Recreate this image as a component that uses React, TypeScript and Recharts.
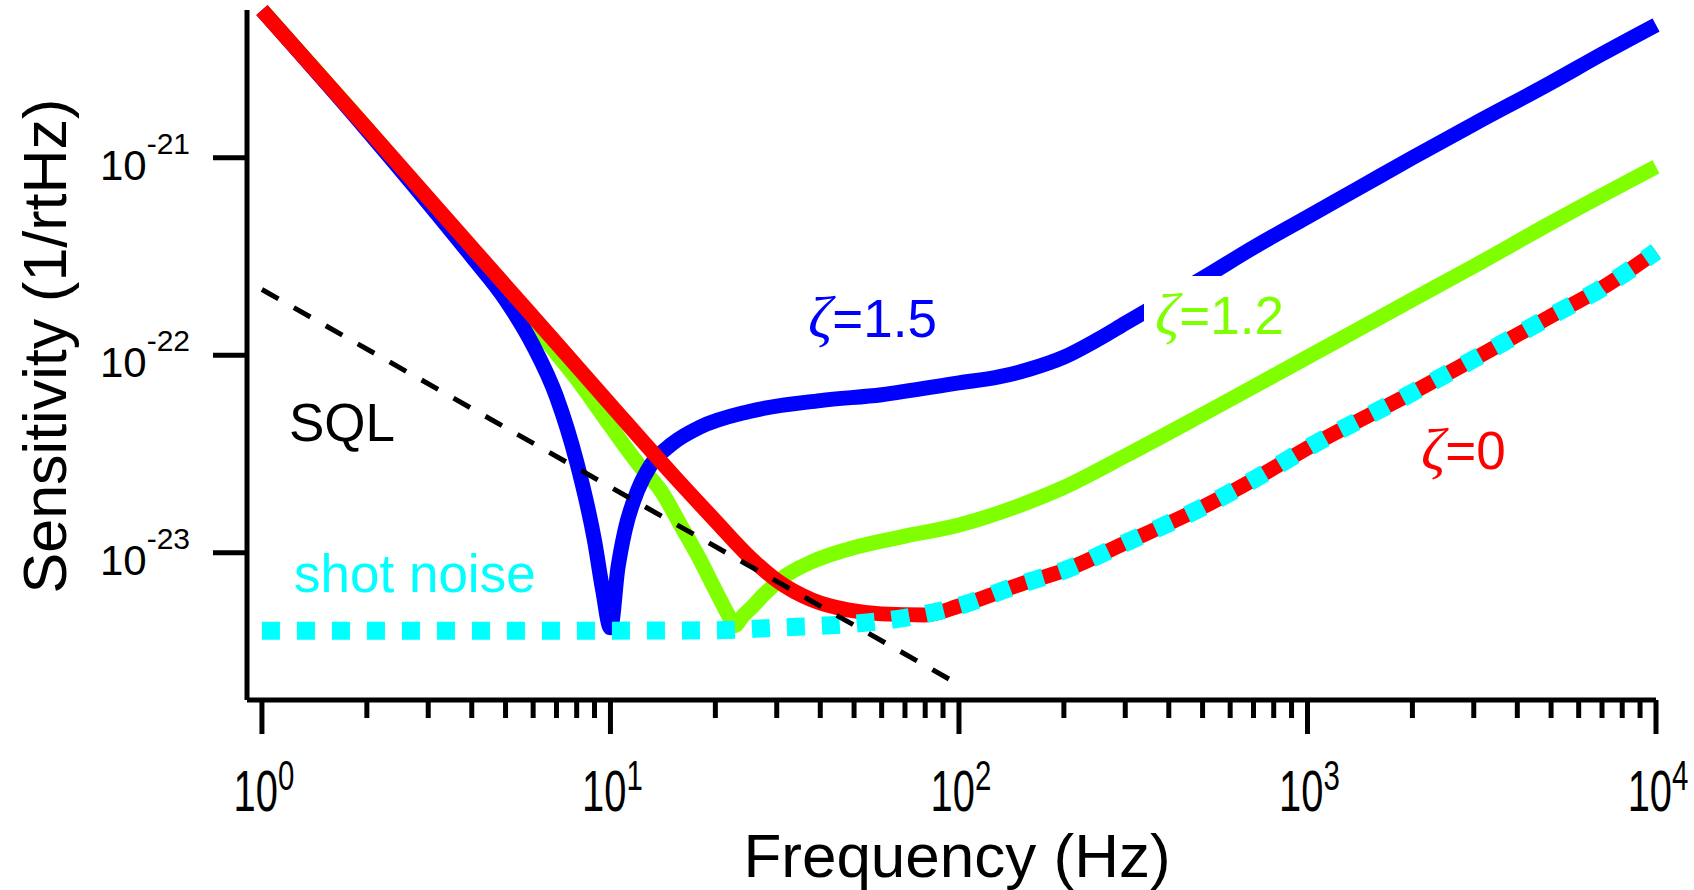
import { LineChart, Line, XAxis, YAxis } from "recharts";

// frequency (Hz) / sensitivity (1/rtHz)
const redF = [1, 2, 3, 5, 7, 10, 15, 20, 25, 30, 38, 48, 60, 80, 100, 150, 200, 300, 500, 700, 1000, 2000, 3000, 5000, 7000, 10000];
const redS = [5.59e-21, 1.41e-21, 6.25e-22, 2.25e-22, 1.15e-22, 5.62e-23, 2.51e-23, 1.45e-23, 9.55e-24, 7.24e-24, 5.75e-24, 5.13e-24, 4.9e-24, 4.84e-24, 5.37e-24, 6.92e-24, 8.13e-24, 1.12e-23, 1.7e-23, 2.34e-23, 3.39e-23, 6.46e-23, 9.55e-23, 1.58e-22, 2.19e-22, 3.35e-22];

const blueF = [1, 2, 3, 4, 5, 6, 7, 8, 9, 9.5, 10, 10.5, 11, 12, 13, 15, 18, 25, 40, 60, 100, 130, 160, 200, 250, 300, 400, 500, 700, 1000, 1400, 2000, 3000, 5000, 7000, 10000];
const blueS = [5.59e-21, 1.38e-21, 5.89e-22, 3.16e-22, 1.91e-22, 1.12e-22, 6.17e-23, 2.88e-23, 1.15e-23, 6.46e-24, 4.17e-24, 8.32e-24, 1.29e-23, 2.09e-23, 2.75e-23, 3.55e-23, 4.31e-23, 5.19e-23, 5.89e-23, 6.31e-23, 7.24e-23, 7.76e-23, 8.51e-23, 9.77e-23, 1.2e-22, 1.45e-22, 1.95e-22, 2.45e-22, 3.51e-22, 5.01e-22, 7.0e-22, 1.0e-21, 1.48e-21, 2.4e-21, 3.35e-21, 4.7e-21];

const greenF = [1, 2, 3, 4, 5, 6, 7, 8, 10, 12, 14, 16, 18, 20, 22, 22.7, 24, 25, 28, 31, 38, 48, 68, 100, 150, 200, 300, 500, 700, 1000, 2000, 3000, 5000, 10000];
const greenS = [5.59e-21, 1.41e-21, 6.17e-22, 3.39e-22, 2.09e-22, 1.45e-22, 1.02e-22, 7.59e-23, 4.37e-23, 2.82e-23, 2.04e-23, 1.35e-23, 9.33e-24, 6.46e-24, 4.68e-24, 4.27e-24, 4.79e-24, 5.13e-24, 6.31e-24, 7.41e-24, 9.02e-24, 1.04e-23, 1.2e-23, 1.38e-23, 1.74e-23, 2.14e-23, 3.09e-23, 5.01e-23, 6.92e-23, 9.77e-23, 1.91e-22, 2.82e-22, 4.68e-22, 9.0e-22];

const shotF = [1, 10, 20, 30, 50, 70, 100, 150, 200, 300, 500, 700, 1000, 2000, 3000, 5000, 7000, 10000];
const shotS = [4.03e-24, 4.03e-24, 4.05e-24, 4.17e-24, 4.37e-24, 4.68e-24, 5.37e-24, 6.92e-24, 8.13e-24, 1.12e-23, 1.7e-23, 2.34e-23, 3.39e-23, 6.46e-23, 9.55e-23, 1.58e-22, 2.19e-22, 3.35e-22];

const sqlF = [1, 95];
const sqlS = [2.15e-22, 2.26e-24];

const xMajor = [1, 10, 100, 1000, 10000];
const xTicks = [
  1, 2, 3, 4, 5, 6, 7, 8, 9,
  10, 20, 30, 40, 50, 60, 70, 80, 90,
  100, 200, 300, 400, 500, 600, 700, 800, 900,
  1000, 2000, 3000, 4000, 5000, 6000, 7000, 8000, 9000,
  10000,
];
const yTicks = [1e-23, 1e-22, 1e-21];

const toRows = (f: number[], s: number[]) => f.map((v, i) => ({ f: v, s: s[i] }));

const FONT = "'Liberation Sans', Arial, sans-serif";
const ZETA = "'Liberation Serif', 'DejaVu Serif', serif";

const XTick = (props: any) => {
  const { x, y, payload } = props;
  const v = payload.value;
  const major = xMajor.includes(v);
  return (
    <g>
      <line x1={x} x2={x} y1={y} y2={y + (major ? 34 : 18)} stroke="#000" strokeWidth={5} />
      {major && (
        <text
          transform={`translate(${x + 2},${y + 111}) scale(0.7,1)`}
          textAnchor="middle"
          fontFamily={FONT}
          fontSize={57}
          fill="#000"
        >
          10
          <tspan dy={-21} fontSize={42}>{Math.round(Math.log10(v))}</tspan>
        </text>
      )}
    </g>
  );
};

const YTick = (props: any) => {
  const { x, y, payload } = props;
  const exp = Math.round(Math.log10(payload.value));
  return (
    <g>
      <line x1={x - 34} x2={x} y1={y} y2={y} stroke="#000" strokeWidth={5} />
      <text x={x - 57} y={y + 22} textAnchor="end" fontFamily={FONT} fontSize={42} fill="#000">
        10
        <tspan dy={-26} fontSize={30}>{exp}</tspan>
      </text>
    </g>
  );
};

const Zeta = ({ x, y, color, value }: { x: number; y: number; color: string; value: string }) => (
  <text x={x} y={y} fontFamily={FONT} fontSize={53} fill={color}>
    <tspan fontFamily={ZETA} fontStyle="italic" fontSize={60}>ζ</tspan>={value}
  </text>
);

export default function App() {
  return (
    <div style={{ position: "absolute", left: 0, top: 0, width: 1694, height: 890, background: "#fff" }}>
      <LineChart width={1694} height={890} margin={{ top: 10, right: 38, bottom: 130, left: 167 }}>
        <XAxis
          type="number"
          dataKey="f"
          scale="log"
          domain={[0.906, 10000]}
          ticks={xTicks}
          interval={0}
          height={60}
          tickSize={0}
          tickMargin={0}
          tickLine={false}
          axisLine={{ stroke: "#000", strokeWidth: 5 }}
          tick={<XTick />}
        />
        <YAxis
          type="number"
          dataKey="s"
          scale="log"
          domain={[1.795e-24, 5.597e-21]}
          ticks={yTicks}
          interval={0}
          width={80}
          tickSize={0}
          tickMargin={0}
          tickLine={false}
          axisLine={{ stroke: "#000", strokeWidth: 5 }}
          tick={<YTick />}
        />
        <Line data={toRows(greenF, greenS)} dataKey="s" type="monotone" stroke="#80FF00" strokeWidth={15} dot={false} isAnimationActive={false} />
        <Line data={toRows(blueF, blueS)} dataKey="s" type="monotone" stroke="#0000FF" strokeWidth={15} dot={false} isAnimationActive={false} />
        <Line data={toRows(redF, redS)} dataKey="s" type="monotone" stroke="#FF0000" strokeWidth={15} dot={false} isAnimationActive={false} />
        <Line data={toRows(shotF, shotS)} dataKey="s" type="monotone" stroke="#00FFFF" strokeWidth={18} strokeDasharray="18 17" dot={false} isAnimationActive={false} />
        <Line data={toRows(sqlF, sqlS)} dataKey="s" type="linear" stroke="#000" strokeWidth={5} strokeDasharray="19 17.7" dot={false} isAnimationActive={false} />
      </LineChart>
      <svg width={1694} height={890} style={{ position: "absolute", left: 0, top: 0, pointerEvents: "none" }}>
        <rect x={1144} y={276} width={145} height={66} fill="#fff" />
        <Zeta x={808} y={337} color="#0000FF" value="1.5" />
        <Zeta x={1155} y={334} color="#80FF00" value="1.2" />
        <Zeta x={1421} y={469} color="#FF0000" value="0" />
        <text x={289} y={441} fontFamily={FONT} fontSize={53} fill="#000">SQL</text>
        <text x={294} y={592} fontFamily={FONT} fontSize={53} fill="#00FFFF">shot noise</text>
        <text x={957} y={877} textAnchor="middle" fontFamily={FONT} fontSize={62} fill="#000">Frequency (Hz)</text>
        <text transform="translate(66,346) rotate(-90)" textAnchor="middle" fontFamily={FONT} fontSize={61} fill="#000">
          Sensitivity (1/rtHz)
        </text>
      </svg>
    </div>
  );
}
